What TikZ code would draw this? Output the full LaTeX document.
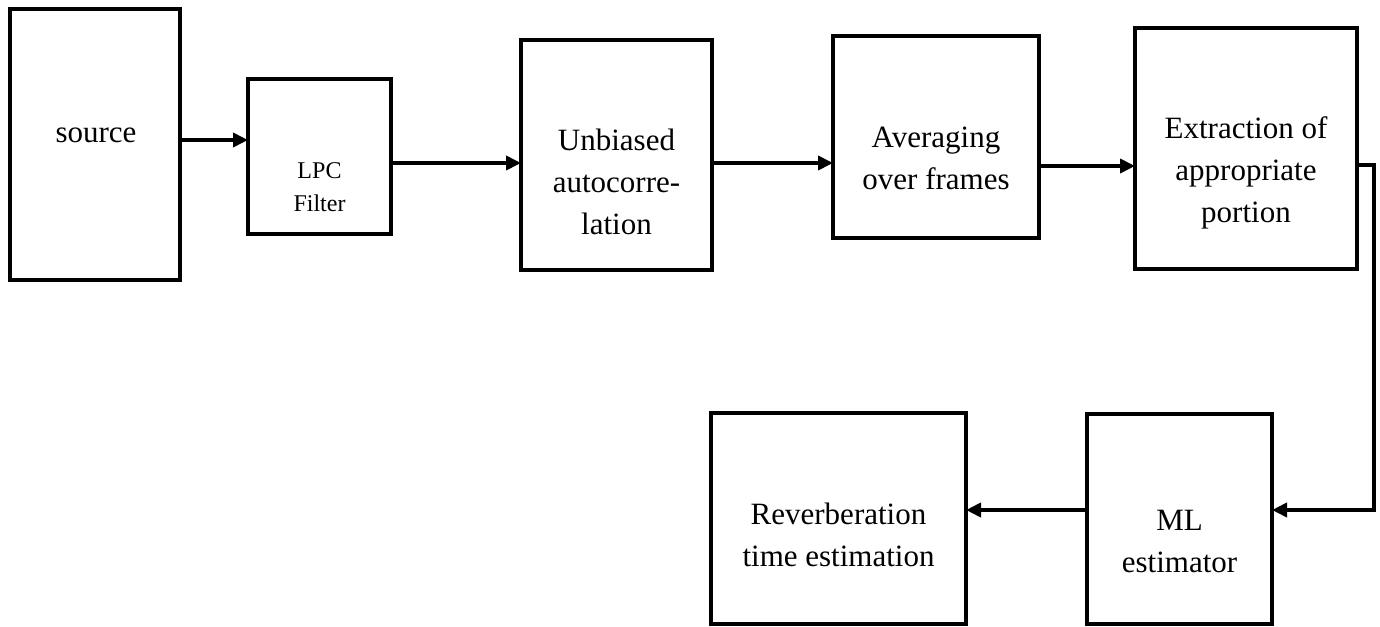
\documentclass[tikz,border=0pt]{standalone}
\usepackage{fontspec}
\setmainfont{Liberation Serif}
\usetikzlibrary{arrows.meta}
\setlength\tabcolsep{0pt}
\begin{document}
\begin{tikzpicture}[x=1pt,y=-1pt,
  box/.style={draw, line width=4pt, inner sep=0pt, outer sep=0pt},
  big/.style={font=\fontsize{31}{42}\selectfont, inner sep=0pt, anchor=base},
  small/.style={font=\fontsize{24}{33}\selectfont, inner sep=0pt, anchor=base},
  arr/.style={line width=4pt, line join=miter, -{Triangle[length=15pt,width=14pt]}}]
\useasboundingbox (0,0) rectangle (1380,626);
% boxes
\node[box, minimum width=170pt, minimum height=271pt] (src) at (95,144.5) {};
\node[box, minimum width=143pt, minimum height=155pt] (lpc) at (319.5,156.5) {};
\node[box, minimum width=191pt, minimum height=230pt] (unb) at (616.5,155) {};
\node[box, minimum width=206pt, minimum height=202pt] (avg) at (936,137) {};
\node[box, minimum width=222pt, minimum height=241pt] (ext) at (1246,148.5) {};
\node[box, minimum width=255pt, minimum height=211pt] (rev) at (838.5,518.5) {};
\node[box, minimum width=185pt, minimum height=210pt] (ml) at (1179.5,519) {};
% texts
\node[big] (srct) at (96,142) {source};
\node[small] (lpct) at (319.5,178) {\begin{tabular}[t]{c}LPC\\Filter\end{tabular}};
\node[big] (unbt) at (616.5,150) {\begin{tabular}[t]{c}Unbiased\\autocorre-\\lation\end{tabular}};
\node[big] (avgt) at (936,147) {\begin{tabular}[t]{c}Averaging\\over frames\end{tabular}};
\node[big] (extt) at (1246,138) {\begin{tabular}[t]{c}Extraction of\\appropriate\\portion\end{tabular}};
\node[big] (revt) at (838.5,524) {\begin{tabular}[t]{c}Reverberation\\time estimation\end{tabular}};
\node[big] (mlt) at (1179.5,530) {\begin{tabular}[t]{c}ML\\estimator\end{tabular}};
% connectors
\draw[arr] (src.east |- 0,140) -- (lpc.west |- 0,140);
\draw[arr] (lpc.east |- 0,163) -- (unb.west |- 0,163);
\draw[arr] (unb.east |- 0,163) -- (avg.west |- 0,163);
\draw[arr] (avg.east |- 0,166) -- (ext.west |- 0,166);
\draw[arr] (ext.east |- 0,165) -| (1374,510) -- (ml.east |- 0,510);
\draw[arr] (ml.west |- 0,510) -- (rev.east |- 0,510);
\end{tikzpicture}
\end{document}
